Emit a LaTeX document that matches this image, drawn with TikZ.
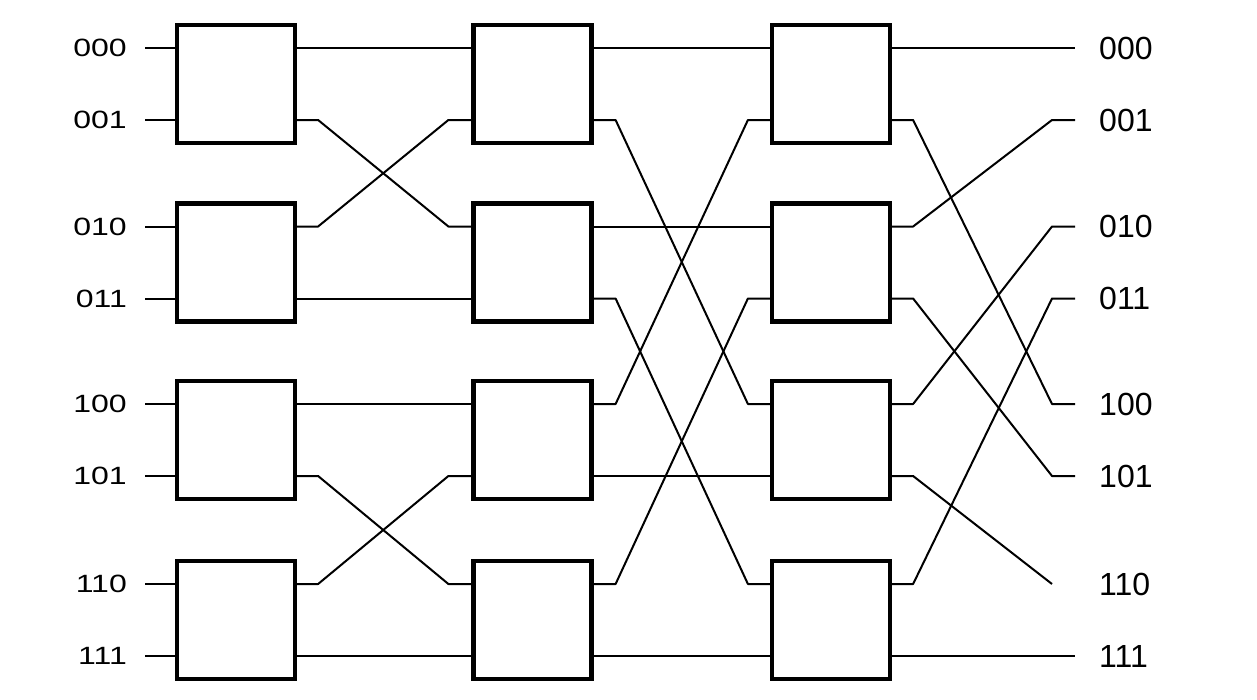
\documentclass[tikz,border=0pt]{standalone}
\usepackage{fontspec}
\setmainfont{Liberation Sans}
\newfontfamily\widefont[FakeStretch=1.28]{Liberation Sans}
\usetikzlibrary{calc}
\begin{document}
\begin{tikzpicture}[x=1pt,y=-1pt,
  box/.style={draw, line width=4.2pt, minimum width=118pt, minimum height=118pt, inner sep=0pt},
  wire/.style={line width=2pt, line join=round},
  lblL/.style={font=\widefont\fontsize{25}{27}\selectfont, inner sep=0pt, anchor=east},
  lblR/.style={font=\fontsize{32}{34}\selectfont, inner sep=0pt, anchor=west}]
\useasboundingbox (0,0) rectangle (1257,699);
% boxes
\foreach \c/\x in {1/236,2/532.5,3/831}{
  \foreach \r/\y in {1/84,2/262.5,3/440,4/620}{
    \node[box] (b\c\r) at (\x,\y) {};
  }
}
% ports
\foreach \c in {1,2,3}{
  \foreach \r/\ka/\kb in {1/0/1,2/2/3,3/4/5,4/6/7}{
    \coordinate (i\c\ka) at ($(b\c\r.west)+(0,-36)$);
    \coordinate (i\c\kb) at ($(b\c\r.west)+(0,36)$);
    \coordinate (o\c\ka) at ($(b\c\r.east)+(0,-36)$);
    \coordinate (o\c\kb) at ($(b\c\r.east)+(0,36)$);
  }
}
\coordinate (lx) at (127,0);
\coordinate (rx) at (1099,0);
% labels
\foreach \k/\lab in {0/000,1/001,2/010,3/011,4/100,5/101,6/110,7/111}{
  \node[lblL] (L\k) at (i1\k -| lx) {\lab};
  \node[lblR] (R\k) at (i1\k -| rx) {\lab};
  \draw[wire] ($(L\k.east)+(18,0)$) -- (i1\k);
}
% stage 1
\foreach \a/\b in {0/0,1/2,2/1,3/3,4/4,5/6,6/5,7/7}{
  \draw[wire] (o1\a) -- ++(21,0) -- ($(i2\b)+(-23,0)$) -- (i2\b);
}
% stage 2
\foreach \a/\b in {0/0,1/4,2/2,3/6,4/1,5/5,6/3,7/7}{
  \draw[wire] (o2\a) -- ++(22,0) -- ($(i3\b)+(-22,0)$) -- (i3\b);
}
% stage 3
\foreach \a/\b in {0/0,1/4,2/1,3/5,4/2,5/6,6/3,7/7}{
  \ifnum\b=6
    \draw[wire] (o3\a) -- ++(21,0) -- ($(R\b.west)+(-47,0)$);
  \else
    \draw[wire] (o3\a) -- ++(21,0) -- ($(R\b.west)+(-47,0)$) -- ($(R\b.west)+(-24,0)$);
  \fi
}
\end{tikzpicture}
\end{document}
